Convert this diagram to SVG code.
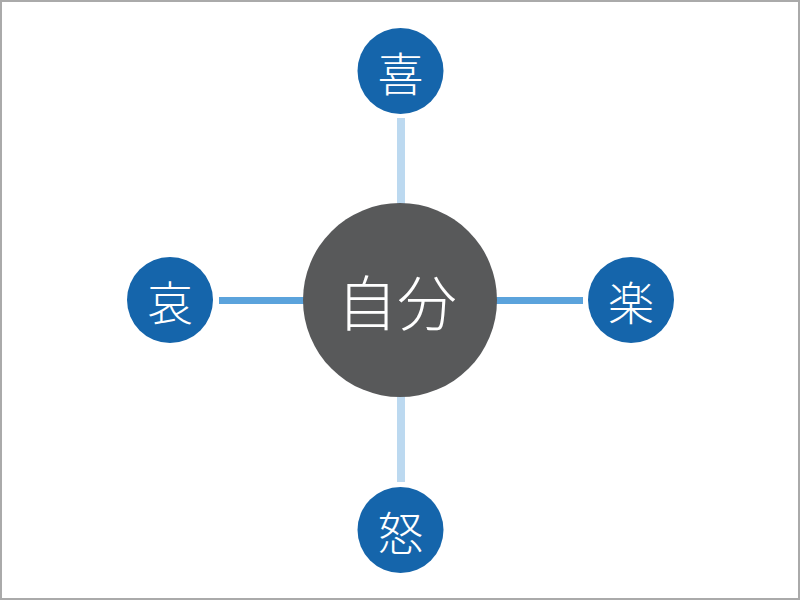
<svg xmlns="http://www.w3.org/2000/svg" width="800" height="600" viewBox="0 0 800 600">
  <style>
    .sat { fill: #1565ab; }
    .hub { fill: #58595a; }
    .vline { stroke: #bcd9f0; stroke-width: 8; fill: none; }
    .hline { stroke: #5ba3dc; stroke-width: 7; fill: none; }
    .lbl { font-family: "Noto Sans CJK JP", "Noto Sans CJK SC", sans-serif; font-weight: 300; fill: #ffffff; text-anchor: middle; dominant-baseline: central; }
    .s { font-size: 46px; }
    .c { font-size: 60px; }
  </style>
  <rect x="1" y="1" width="798" height="598" fill="#ffffff" stroke="#aaaaaa" stroke-width="2"/>
  <g id="connectors">
    <line class="vline" x1="401" y1="118" x2="401" y2="210"/>
    <line class="vline" x1="401" y1="390" x2="401" y2="482"/>
    <line class="hline" x1="219" y1="300.5" x2="310" y2="300.5"/>
    <line class="hline" x1="490" y1="300.5" x2="583" y2="300.5"/>
  </g>
  <g id="center">
    <circle class="hub" cx="400" cy="300" r="97"/>
    <text class="lbl c" x="397" y="299">自分</text>
  </g>
  <g id="ki">
    <circle class="sat" cx="400.5" cy="71" r="43"/>
    <text class="lbl s" x="400.5" y="71">喜</text>
  </g>
  <g id="ai">
    <circle class="sat" cx="170" cy="300" r="43"/>
    <text class="lbl s" x="170" y="300">哀</text>
  </g>
  <g id="raku">
    <circle class="sat" cx="631" cy="300" r="43"/>
    <text class="lbl s" x="631" y="300">楽</text>
  </g>
  <g id="do">
    <circle class="sat" cx="400.5" cy="530" r="43"/>
    <text class="lbl s" x="400.5" y="530">怒</text>
  </g>
</svg>
